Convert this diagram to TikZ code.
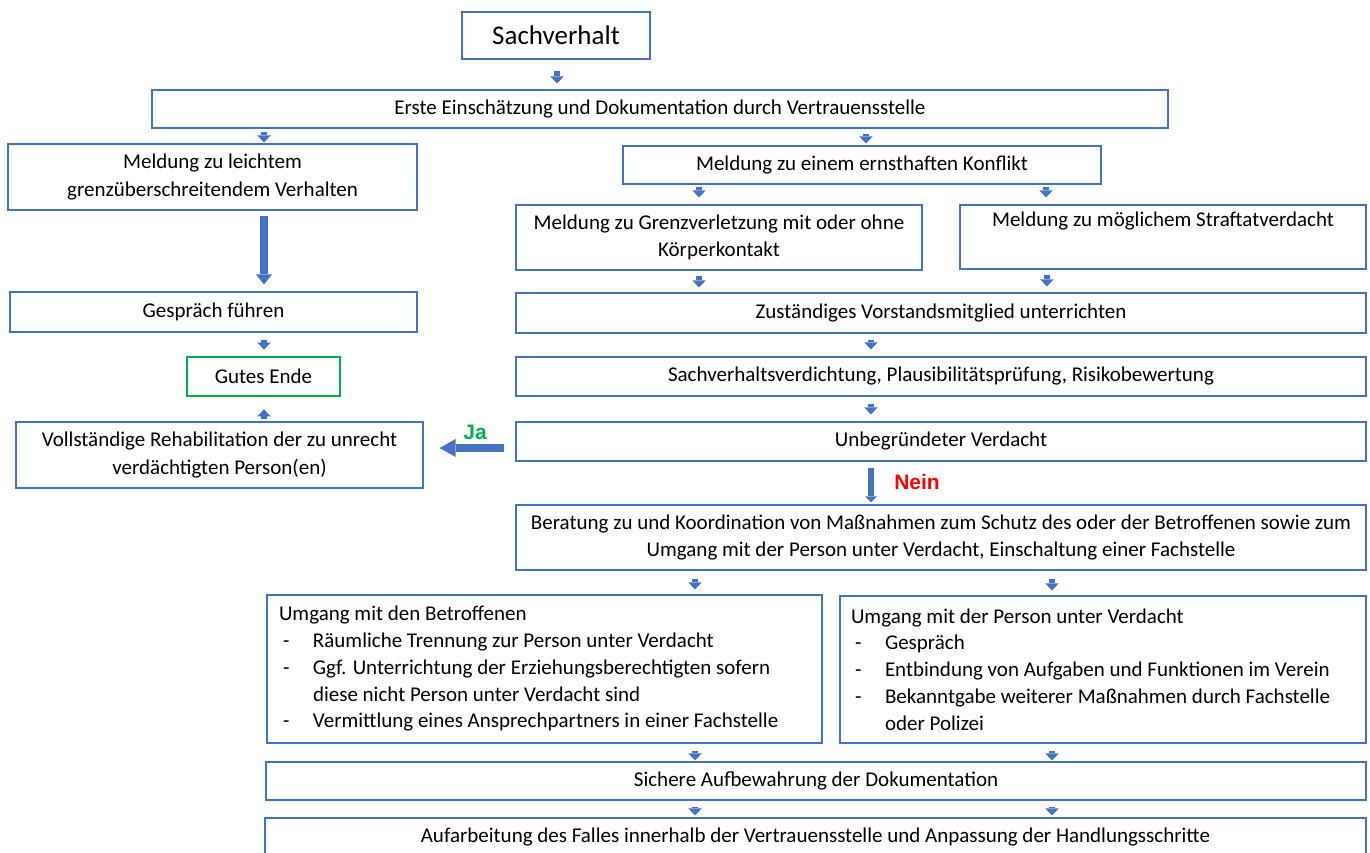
\documentclass[tikz,border=0pt]{standalone}
\usepackage{fontspec}
\setmainfont{Carlito}
\newfontfamily\arialfont{Liberation Sans}
\usetikzlibrary{arrows.meta}
\definecolor{boxblue}{HTML}{4472C4}
\definecolor{arrowblue}{HTML}{4472C4}
\definecolor{okgreen}{HTML}{00B050}
\newcommand{\dashitem}{\makebox[34pt][l]{\hspace{4pt}-}}

\begin{document}
\begin{tikzpicture}[x=1pt,y=-1pt,
  box/.style={draw=boxblue, line width=1.2pt, inner sep=0pt, align=center, font=\fontsize{21}{27.5}\selectfont},
  listbox/.style={draw=boxblue, line width=1.2pt, inner ysep=0pt, align=flush left, font=\fontsize{21}{26.75}\selectfont},
  wh/.style 2 args={minimum width=#1pt, minimum height=#2pt},
  blk/.style={draw=arrowblue, line width=6pt, -{Triangle[width=13.5pt,length=7pt,line width=0pt]}},
  answer/.style={font=\arialfont\bfseries\fontsize{21}{21}\selectfont}]
\useasboundingbox (0,0) rectangle (1370,852);
% boxes
\node[box, wh={188}{47}, font=\fontsize{27}{32}\selectfont] (sach) at (556,35.5) {Sachverhalt};
\node[box, wh={1016}{38}] (erste) at (660,109) {Erste Einschätzung und Dokumentation durch Vertrauensstelle};
\node[box, wh={409}{66}] (leicht) at (212.5,177) {Meldung zu leichtem\\grenzüberschreitendem Verhalten};
\node[box, wh={478}{38}] (ernst) at (862,165) {Meldung zu einem ernsthaften Konflikt};
\node[box, wh={406}{65}] (grenz) at (719,237.5) {Meldung zu Grenzverletzung mit oder ohne\\Körperkontakt};
\node[box, wh={406}{64}] (straf) at (1163,237) {Meldung zu möglichem Straftatverdacht\\\strut};
\node[box, wh={407}{40}] (gespr) at (213.5,312) {Gespräch führen};
\node[box, wh={850}{40}] (zust) at (941,313) {Zuständiges Vorstandsmitglied unterrichten};
\node[box, wh={153}{39}, draw=okgreen, line width=2.8pt] (gut) at (263.5,376.5) {Gutes Ende};
\node[box, wh={850}{39}] (verd) at (941,376.5) {Sachverhaltsverdichtung, Plausibilitätsprüfung, Risikobewertung};
\node[box, wh={407}{66}] (voll) at (219.5,455) {Vollständige Rehabilitation der zu unrecht\\verdächtigten Person(en)};
\node[box, wh={850}{39}] (unbeg) at (941,441.5) {Unbegründeter Verdacht};
\node[box, wh={850}{65}] (ber) at (941,537.5) {Beratung zu und Koordination von Maßnahmen zum Schutz des oder der Betroffenen sowie zum\\Umgang mit der Person unter Verdacht, Einschaltung einer Fachstelle};
\node[listbox, wh={555}{148}, inner xsep=12pt, text width=531pt] (betr) at (544.5,669) {Umgang mit den Betroffenen\\
  \dashitem Räumliche Trennung zur Person unter Verdacht\\
  \dashitem Ggf. Unterrichtung der Erziehungsberechtigten sofern\\
  \hspace*{34pt}diese nicht Person unter Verdacht sind\\
  \dashitem Vermittlung eines Ansprechpartners in einer Fachstelle};
\node[listbox, wh={526}{147}, inner xsep=11pt, text width=504pt] (pers) at (1103,669.5) {Umgang mit der Person unter Verdacht\\
  \dashitem Gespräch\\
  \dashitem Entbindung von Aufgaben und Funktionen im Verein\\
  \dashitem Bekanntgabe weiterer Maßnahmen durch Fachstelle\\
  \hspace*{34pt}oder Polizei};
\node[box, wh={1100}{38}] (sich) at (816,781) {Sichere Aufbewahrung der Dokumentation};
\node[box, wh={1101}{38}] (auf) at (815.5,837) {Aufarbeitung des Falles innerhalb der Vertrauensstelle und Anpassung der Handlungsschritte};
% block arrows
\draw[blk, shorten <=11pt, shorten >=6pt] (557,0 |- sach.south) -- (557,0 |- erste.north);
\draw[blk, shorten <=3pt, shorten >=1pt] (264,0 |- erste.south) -- (264,0 |- leicht.north);
\draw[blk, shorten <=5pt, shorten >=2pt] (866,0 |- erste.south) -- (866,0 |- ernst.north);
\draw[blk, shorten <=2pt, shorten >=7pt] (699,0 |- ernst.south) -- (699,0 |- grenz.north);
\draw[blk, shorten <=2pt, shorten >=7pt] (1046,0 |- ernst.south) -- (1046,0 |- straf.north);
\draw[blk, line width=7.5pt, -{Triangle[width=16pt,length=10pt,line width=0pt]}, shorten <=5pt, shorten >=7pt] (264,0 |- leicht.south) -- (264,0 |- gespr.north);
\draw[blk, shorten <=5pt, shorten >=5pt] (699,0 |- grenz.south) -- (699,0 |- zust.north);
\draw[blk, shorten <=5pt, shorten >=6pt] (1047,0 |- straf.south) -- (1047,0 |- zust.north);
\draw[blk, shorten <=7pt, shorten >=6pt] (264,0 |- gespr.south) -- (264,0 |- gut.north);
\draw[blk, shorten <=6pt, shorten >=7pt] (871,0 |- zust.south) -- (871,0 |- verd.north);
\draw[blk, shorten <=7pt, shorten >=7pt] (871,0 |- verd.south) -- (871,0 |- unbeg.north);
\draw[blk, shorten <=2pt, shorten >=12pt] (264,0 |- voll.north) -- (264,0 |- gut.south);
\draw[blk, line width=8pt, -{Triangle[width=18pt,length=16pt,line width=0pt]}, shorten <=11pt, shorten >=16pt] (unbeg.west |- 0,448) -- (voll.east |- 0,448);
\draw[blk, -{Triangle[width=12pt,length=6pt,line width=0pt]}, shorten <=6pt, shorten >=2pt] (871,0 |- unbeg.south) -- (871,0 |- ber.north);
\draw[blk, shorten <=8pt, shorten >=5pt] (695,0 |- ber.south) -- (695,0 |- betr.north);
\draw[blk, shorten <=8pt, shorten >=5pt] (1052,0 |- ber.south) -- (1052,0 |- pers.north);
\draw[blk, shorten <=7pt, shorten >=1pt] (695,0 |- betr.south) -- (695,0 |- sich.north);
\draw[blk, shorten <=7pt, shorten >=1pt] (1052,0 |- pers.south) -- (1052,0 |- sich.north);
\draw[blk, shorten <=6pt, shorten >=2pt] (695,0 |- sich.south) -- (695,0 |- auf.north);
\draw[blk, shorten <=6pt, shorten >=2pt] (1052,0 |- sich.south) -- (1052,0 |- auf.north);
% answers
\node[answer, text=okgreen] (ja) at (475,432) {Ja};
\node[answer, text=red] (nein) at (917,482) {Nein};
\end{tikzpicture}
\end{document}
